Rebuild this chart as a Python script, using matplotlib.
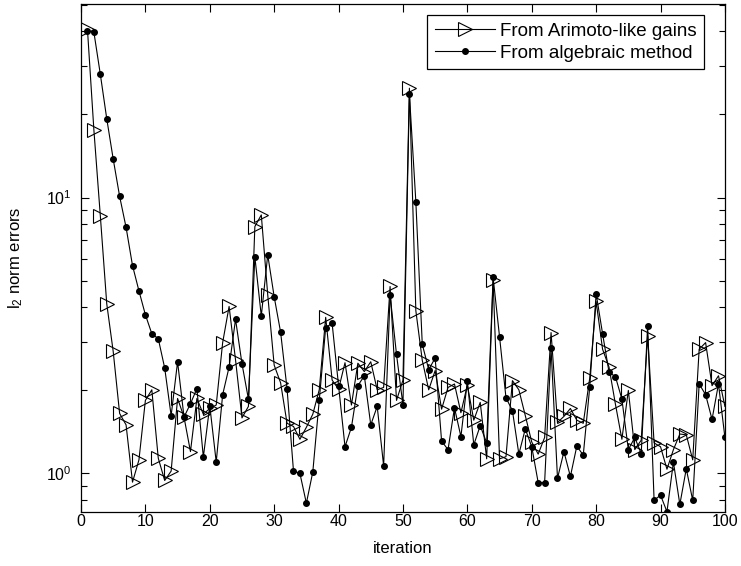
import matplotlib
matplotlib.use("Agg")
import matplotlib.pyplot as plt
import numpy as np
from matplotlib.ticker import LogLocator, NullFormatter, MultipleLocator

plt.rcParams['font.family'] = ['Liberation Sans', 'DejaVu Sans']
plt.rcParams['mathtext.default'] = 'regular'

iterations = np.arange(1, 101)

# l2 norm errors per iteration
arimoto_errors = [
    40.8, 17.6, 8.6, 4.12, 2.77, 1.65, 1.50, 0.93, 1.12, 1.84,
    2.01, 1.136, 0.943, 1.02, 1.87, 1.60, 1.20, 1.87, 1.64, 1.72,
    1.77, 2.98, 4.03, 2.58, 1.59, 1.75, 7.85, 8.65, 4.44, 2.47,
    2.13, 1.52, 1.48, 1.33, 1.47, 1.64, 2.01, 3.68, 2.18, 2.02,
    2.52, 1.77, 2.51, 2.34, 2.54, 2.01, 2.05, 4.76, 1.84, 2.18,
    24.9, 3.89, 2.57, 2.01, 2.36, 1.71, 2.05, 2.11, 1.66, 2.09,
    1.56, 1.81, 1.13, 5.03, 1.13, 1.15, 2.17, 2.01, 1.62, 1.30,
    1.175, 1.35, 3.24, 1.53, 1.61, 1.72, 1.56, 1.52, 2.21, 4.20,
    2.82, 2.43, 1.78, 1.33, 2.00, 1.22, 1.32, 3.15, 1.29, 1.25,
    1.036, 1.22, 1.39, 1.38, 1.12, 2.82, 2.98, 2.08, 2.26, 1.75,
]

algebraic_errors = [
    40.1, 39.8, 28.0, 19.3, 13.8, 10.1, 7.8, 5.67, 4.59, 3.76,
    3.21, 3.08, 2.41, 1.62, 2.54, 1.60, 1.79, 2.03, 1.146, 1.76,
    1.10, 1.93, 2.43, 3.62, 2.50, 1.86, 6.1, 3.72, 6.2, 4.37,
    3.25, 2.03, 1.02, 1.00, 0.78, 1.013, 1.84, 3.38, 3.50, 2.08,
    1.25, 1.47, 2.08, 2.26, 1.50, 1.75, 1.065, 4.43, 2.70, 1.77,
    23.7, 9.67, 2.94, 2.38, 2.62, 1.31, 1.22, 1.73, 1.36, 2.16,
    1.27, 1.49, 1.29, 5.14, 3.13, 1.88, 1.69, 1.175, 1.45, 1.25,
    0.927, 0.927, 2.84, 0.96, 1.20, 0.975, 1.256, 1.165, 2.05, 4.48,
    3.21, 2.33, 2.24, 1.86, 1.22, 1.35, 1.18, 3.43, 0.80, 0.834,
    0.727, 1.10, 0.772, 1.04, 0.798, 2.11, 1.93, 1.57, 2.11, 1.35,
]

fig = plt.figure(figsize=(7.41, 5.66), dpi=100)
ax = fig.add_axes([0.1093, 0.096, 0.8690, 0.897])

ax.semilogy(iterations, arimoto_errors, color='black', linewidth=0.8,
            marker='>', markersize=9.5, markerfacecolor='none',
            markeredgecolor='black', markeredgewidth=0.8,
            label='From Arimoto-like gains')
ax.semilogy(iterations, algebraic_errors, color='black', linewidth=0.8,
            marker='o', markersize=4, markerfacecolor='black',
            markeredgecolor='black', label='From algebraic method')

ax.set_xlim(0, 100)
ax.set_ylim(0.727, 50.3)
ax.xaxis.set_major_locator(MultipleLocator(10))
ax.yaxis.set_major_locator(LogLocator(base=10))
ax.yaxis.set_minor_locator(LogLocator(base=10, subs=np.arange(2, 10)))
ax.yaxis.set_minor_formatter(NullFormatter())

ax.tick_params(which='both', direction='in', top=True, right=True,
               labelsize=11.5, width=0.8)
ax.tick_params(which='major', length=6)
ax.tick_params(which='minor', length=4)
ax.tick_params(axis='x', which='major', pad=2)
ax.tick_params(axis='y', which='major', pad=7)
for spine in ax.spines.values():
    spine.set_linewidth(0.9)

ax.set_xlabel('iteration', fontsize=12, labelpad=8)
ax.set_ylabel('l$_2$ norm errors', fontsize=12, labelpad=15)

leg = ax.legend(loc='upper right', bbox_to_anchor=(0.967, 0.978),
                fontsize=13.5, handlelength=3.2, handletextpad=0.25,
                labelspacing=0.25, borderpad=0.4, borderaxespad=0,
                numpoints=1, fancybox=False, framealpha=1,
                edgecolor='black')
leg.get_frame().set_linewidth(0.9)

fig.savefig('out.png', dpi=100)
